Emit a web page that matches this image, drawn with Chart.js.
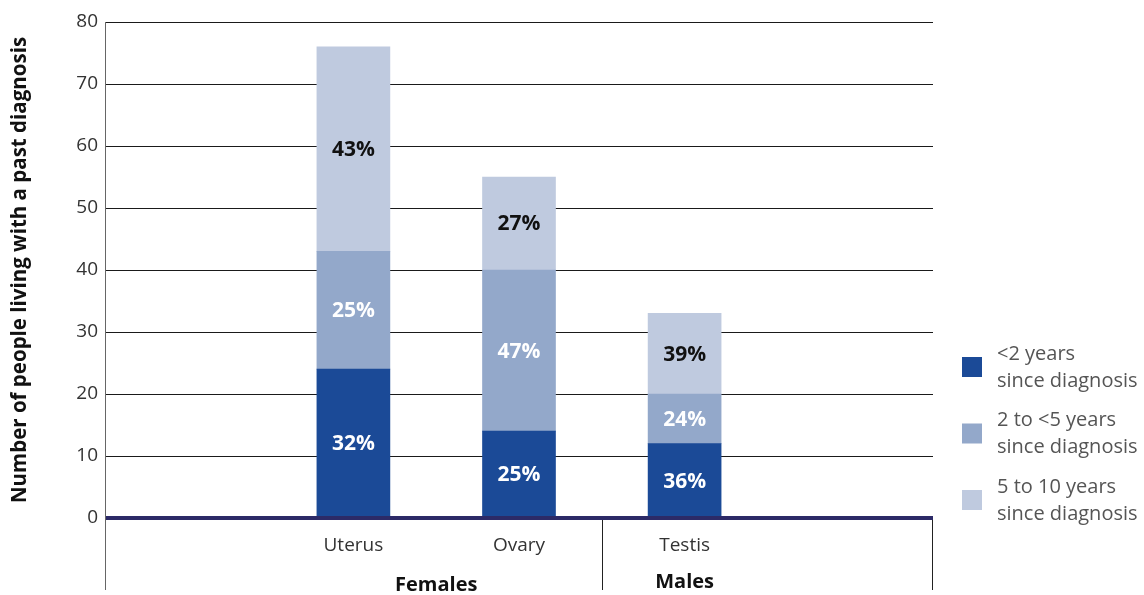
<!DOCTYPE html>
<html>
<head>
    <title>Past diagnosis</title>
    <meta charset="UTF-8">
    <script src="https://cdn.jsdelivr.net/npm/chart.js@4.4.1/dist/chart.umd.min.js"></script>
    <style>
        body { margin: 0; background: #fff; }
    </style>
</head>
<body>
    <canvas id="myChart" width="1144" height="595"></canvas>
    <script>
        // categories (first and last slot are left empty in the original)
        let sites = ['', 'Uterus', 'Ovary', 'Testis', ''];
        let groups = ['Females', 'Males'];
        let seriesNames = [['<2 years', 'since diagnosis'], ['2 to <5 years', 'since diagnosis'], ['5 to 10 years', 'since diagnosis']];

        let under2 = [null, 24, 14, 12, null];
        let from2to5 = [null, 19, 26, 8, null];
        let from5to10 = [null, 33, 15, 13, null];

        let pctUnder2 = ['', '32%', '25%', '36%', ''];
        let pctFrom2to5 = ['', '25%', '47%', '24%', ''];
        let pctFrom5to10 = ['', '43%', '27%', '39%', ''];

        let colors = ['#1b4a97', '#93a8ca', '#bfcadf'];
        let labelColors = ['#ffffff', '#ffffff', '#111111'];
        let font = '"Open Sans", sans-serif';

        let extras = {
            id: 'extras',
            afterDatasetsDraw(chart) {
                let ctx = chart.ctx;
                let area = chart.chartArea;
                let x = chart.scales.x;
                let y = chart.scales.y;
                let pcts = [pctUnder2, pctFrom2to5, pctFrom5to10];

                // percentage labels in the segments
                ctx.save();
                ctx.font = 'bold 21px ' + font;
                ctx.textAlign = 'center';
                ctx.textBaseline = 'middle';
                chart.data.datasets.forEach(function (ds, i) {
                    chart.getDatasetMeta(i).data.forEach(function (bar, j) {
                        if (!pcts[i][j]) return;
                        let p = bar.getProps(['x', 'y', 'base'], true);
                        ctx.fillStyle = labelColors[i];
                        ctx.fillText(pcts[i][j], p.x, (p.y + p.base) / 2 + 1);
                    });
                });

                // thick zero line
                ctx.strokeStyle = '#2c2a67';
                ctx.lineWidth = 4;
                ctx.beginPath();
                ctx.moveTo(area.left, y.getPixelForValue(0));
                ctx.lineTo(area.right, y.getPixelForValue(0));
                ctx.stroke();

                // axis line continuing below + group separators
                let sep = (x.getPixelForValue(2) + x.getPixelForValue(3)) / 2;
                let y0 = y.getPixelForValue(0) + 2;
                ctx.lineWidth = 1;
                ctx.strokeStyle = '#666';
                ctx.beginPath();
                ctx.moveTo(area.left + 0.5, area.top);
                ctx.lineTo(area.left + 0.5, 590);
                ctx.stroke();
                ctx.strokeStyle = '#222';
                ctx.beginPath();
                ctx.moveTo(Math.round(sep) + 0.5, y0);
                ctx.lineTo(Math.round(sep) + 0.5, 590);
                ctx.moveTo(area.right - 0.5, y0);
                ctx.lineTo(area.right - 0.5, 590);
                ctx.stroke();

                // group labels
                ctx.fillStyle = '#111';
                ctx.font = 'bold 20px ' + font;
                ctx.textBaseline = 'middle';
                ctx.fillText(groups[0], (x.getPixelForValue(1) + x.getPixelForValue(2)) / 2, 585);
                ctx.fillText(groups[1], x.getPixelForValue(3), 582);

                // legend
                ctx.textAlign = 'left';
                ctx.font = '20px ' + font;
                seriesNames.forEach(function (name, i) {
                    let cy = 367 + i * 66.5;
                    ctx.fillStyle = colors[i];
                    ctx.fillRect(962, cy - 10, 20, 20);
                    ctx.fillStyle = '#555';
                    ctx.fillText(name[0], 997, cy - 13);
                    ctx.fillText(name[1], 997, cy + 14);
                });
                ctx.restore();
            }
        };

        let ctx = document.getElementById('myChart').getContext('2d');
        let myChart = new Chart(ctx, {
            type: 'bar',
            data: {
                labels: sites,
                datasets: [
                    { label: seriesNames[0].join(' '), data: under2, backgroundColor: colors[0] },
                    { label: seriesNames[1].join(' '), data: from2to5, backgroundColor: colors[1] },
                    { label: seriesNames[2].join(' '), data: from5to10, backgroundColor: colors[2] }
                ]
            },
            options: {
                responsive: false,
                animation: false,
                barThickness: 73,
                layout: { padding: { top: 22, right: 211, left: 0, bottom: 0 } },
                plugins: { legend: { display: false }, tooltip: { enabled: false } },
                scales: {
                    x: {
                        stacked: true,
                        grid: { display: false, drawTicks: false },
                        border: { display: false },
                        ticks: { color: '#333', font: { family: font, size: 19 }, padding: 16 },
                        afterFit: function (scale) { scale.height = 77; }
                    },
                    y: {
                        stacked: true,
                        min: 0,
                        max: 80,
                        ticks: { stepSize: 10, color: '#333', font: { family: font, size: 19 }, padding: 7 },
                        grid: { color: '#1a1a1a', lineWidth: 1, drawTicks: false },
                        border: { display: false },
                        title: {
                            display: true,
                            text: 'Number of people living with a past diagnosis',
                            color: '#111',
                            font: { family: font, size: 20.5, weight: 'bold' },
                            padding: { top: 8, bottom: 0 }
                        },
                        afterFit: function (scale) { scale.width = 105; }
                    }
                }
            },
            plugins: [extras]
        });
    </script>
</body>
</html>
